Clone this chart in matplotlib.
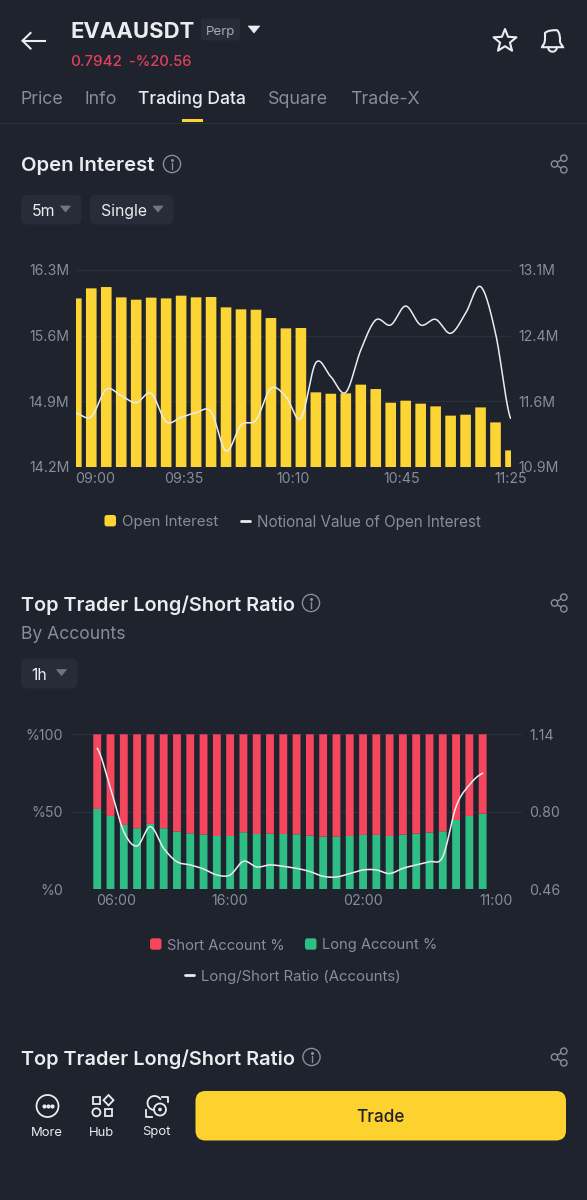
import numpy as np
import matplotlib
matplotlib.use("Agg")
import matplotlib.pyplot as plt
from matplotlib.patches import Rectangle, FancyBboxPatch, Circle, Polygon, PathPatch
from matplotlib.path import Path

# Open interest chart (5m)
oi_labels = ["09:00", "09:35", "10:10", "10:45", "11:25"]
oi_left_ticks = ["14.2M", "14.9M", "15.6M", "16.3M"]
oi_right_ticks = ["10.9M", "11.6M", "12.4M", "13.1M"]
open_interest = [15.997, 16.104, 16.118, 16.008, 15.983, 16.005, 15.997, 16.026, 16.008, 16.012,
                 15.901, 15.880, 15.876, 15.787, 15.677, 15.681, 14.994, 14.979, 14.983, 15.076,
                 15.029, 14.883, 14.905, 14.873, 14.844, 14.745, 14.755, 14.833, 14.673, 14.374]
notional = [11.497, 11.459, 11.765, 11.694, 11.616, 11.720, 11.403, 11.452, 11.504, 11.515,
            11.075, 11.366, 11.422, 11.776, 11.683, 11.441, 12.063, 11.907, 11.732, 12.205,
            12.541, 12.485, 12.697, 12.485, 12.548, 12.392, 12.615, 12.914, 12.392, 11.441]

# Top trader long/short chart (1h)
ls_labels = ["06:00", "16:00", "02:00", "11:00"]
ls_left_ticks = ["%0", "%50", "%100"]
ls_right_ticks = ["0.46", "0.80", "1.14"]
long_pct = [51.8, 47.3, 41.5, 39.4, 42.2, 39.4, 37.2, 36.1, 35.3, 34.4,
            34.4, 36.8, 35.7, 35.9, 35.7, 35.5, 34.6, 34.0, 34.0, 34.4,
            35.1, 35.1, 34.4, 35.3, 35.9, 36.6, 37.4, 44.7, 47.3, 48.8]
short_pct = [100 - v for v in long_pct]
ls_ratio = [1.079, 0.903, 0.713, 0.650, 0.735, 0.640, 0.581, 0.567, 0.549, 0.523,
            0.523, 0.583, 0.558, 0.567, 0.561, 0.552, 0.538, 0.517, 0.514, 0.529,
            0.545, 0.545, 0.529, 0.552, 0.567, 0.581, 0.603, 0.823, 0.918, 0.969]

BG = "#1E232D"
PANEL = "#272D38"
GRID = "#2A303A"
GREY = "#848E9C"
WHITE = "#EAECEF"
YELLOW = "#FCD535"
RED = "#F6465D"
GREEN = "#2EBD85"

W, H = 587, 1200
plt.rcParams["font.family"] = ["Inter", "DejaVu Sans"]

fig = plt.figure(figsize=(W / 100, H / 100), dpi=100, facecolor=BG)

# whole page overlay in pixel coords, top-left origin
ui = fig.add_axes([0, 0, 1, 1])
ui.set_xlim(0, W)
ui.set_ylim(H, 0)
ui.axis("off")


def chart_axes(l, t, r, b):
    ax = fig.add_axes([l / W, 1 - b / H, (r - l) / W, (b - t) / H])
    ax.patch.set_alpha(0)
    for s in ax.spines.values():
        s.set_visible(False)
    return ax


def smooth(y, n=16):
    # catmull-rom through the read values, only for drawing the curve
    y = np.asarray(y, dtype=float)
    p = np.concatenate([[y[0]], y, [y[-1]]])
    xs, ys = [], []
    for i in range(len(y) - 1):
        t = np.linspace(0, 1, n, endpoint=False)
        a, b, c, d = p[i], p[i + 1], p[i + 2], p[i + 3]
        ys.append(0.5 * (2 * b + (c - a) * t + (2 * a - 5 * b + 4 * c - d) * t ** 2 + (3 * b - a - 3 * c + d) * t ** 3))
        xs.append(i + t)
    return np.concatenate(xs + [[len(y) - 1]]), np.concatenate(ys + [[y[-1]]])


def txt(x, y, s, size, color=GREY, weight="normal", ha="left"):
    ui.text(x, y, s, fontsize=size, color=color, fontweight=weight, ha=ha, va="center_baseline")


def round_box(l, t, r, b, color, rad=6, zorder=1):
    ui.add_patch(FancyBboxPatch((l + rad, t + rad), r - l - 2 * rad, b - t - 2 * rad,
                                boxstyle=f"round,pad={rad},rounding_size={rad}",
                                fc=color, ec="none", zorder=zorder))


def triangle(cx, cy, w, h, color):
    ui.add_patch(Polygon([(cx - w / 2, cy - h / 2), (cx + w / 2, cy - h / 2), (cx, cy + h / 2)],
                         fc=color, ec=color, lw=0.5, joinstyle="round"))


def info_icon(cx, cy):
    ui.add_patch(Circle((cx, cy), 8.6, fc="none", ec=GREY, lw=1.0))
    ui.plot([cx, cx], [cy - 1.5, cy + 4.5], color=GREY, lw=1.0)
    ui.plot([cx], [cy - 4.2], "o", color=GREY, ms=1.2)


def share_icon(cx, cy):
    a, b, c = (cx - 4.5, cy), (cx + 4.8, cy - 5.8), (cx + 4.8, cy + 5.8)
    ui.plot([b[0], a[0], c[0]], [b[1], a[1], c[1]], color=GREY, lw=1.0)
    for p in (a, b, c):
        ui.add_patch(Circle(p, 3.2, fc=BG, ec=GREY, lw=1.0, zorder=3))


def legend_box(x, y, color):
    round_box(x, y - 5.7, x + 11.5, y + 5.7, color, rad=2.5)


def legend_dash(x, y):
    ui.plot([x, x + 9], [y, y], color=WHITE, lw=2.0, solid_capstyle="round")


def unsnap(bars):
    for b in bars:
        b.set_snap(False)


def center_labels(ax):
    for lab in ax.get_yticklabels():
        lab.set_verticalalignment("center_baseline")


# header
ui.plot([30.5, 22.5, 30.5], [33, 40.7, 48.5], color=WHITE, lw=1.5, solid_joinstyle="miter")
ui.plot([22.5, 44.5], [40.7, 40.7], color=WHITE, lw=1.5)
txt(70, 30, "EVAAUSDT", 15.9, WHITE, "bold")
round_box(201, 18.5, 240, 40.5, PANEL, rad=2.5)
txt(220.5, 30, "Perp", 9.6, "#A4ABB6", ha="center")
triangle(254, 29.5, 11.5, 7, WHITE)
txt(70, 60, "0.7942", 10.9, "#E2405A", "medium")
txt(129, 60, "-%20.56", 10.6, "#E2405A", "medium")

ang = np.pi / 2 + np.arange(10) * np.pi / 5
rad = np.where(np.arange(10) % 2 == 0, 12, 5.2)
ui.add_patch(Polygon(np.c_[505 + rad * np.cos(ang), 41 - rad * np.sin(ang)], closed=True, fc="none", ec=WHITE,
                     lw=1.5, joinstyle="round"))
bell = Path([(542, 46), (545, 44), (545, 41), (545, 37), (545, 33), (548, 30.2), (552.5, 30.2),
             (557, 30.2), (560, 33), (560, 37), (560, 41), (560, 44), (563, 46), (563, 47.2), (542, 47.2), (542, 46)],
            [Path.MOVETO, Path.CURVE4, Path.CURVE4, Path.CURVE4, Path.LINETO, Path.CURVE4, Path.CURVE4, Path.CURVE4,
             Path.CURVE4, Path.CURVE4, Path.LINETO, Path.CURVE4, Path.CURVE4, Path.LINETO, Path.LINETO, Path.LINETO])
ui.add_patch(PathPatch(bell, fc="none", ec=WHITE, lw=1.5))
clapper = np.linspace(0, np.pi, 20)
ui.plot(552.5 + 4.3 * np.cos(clapper), 47.5 + 4.2 * np.sin(clapper), color=WHITE, lw=1.5)

txt(21, 97, "Price", 12.8)
txt(85, 97, "Info", 12.8)
txt(138, 97, "Trading Data", 12.6, WHITE, "medium")
txt(268, 97, "Square", 12.9)
txt(350, 97, "Trade-X", 12.8)
ui.plot([0, W], [122.5, 122.5], color=GRID, lw=0.9)
ui.add_patch(Rectangle((182, 118.5), 21, 3.7, fc=YELLOW, ec="none", zorder=3))

# open interest section
txt(21, 164, "Open Interest", 14.6, WHITE, "semibold")
info_icon(172, 164)
share_icon(559, 164)
round_box(21, 195, 81.5, 224.5, PANEL)
txt(31.5, 210, "5m", 11.4, WHITE)
triangle(65.5, 209, 10, 6, "#6F7683")
round_box(90, 195, 173.5, 224.5, PANEL)
txt(101, 210, "Single", 11.4, WHITE)
triangle(158, 209, 10, 6, "#6F7683")

x1 = np.arange(len(open_interest))
ax1 = chart_axes(76.3, 270, 510.5, 466.7)
unsnap(ax1.bar(x1, open_interest, width=0.71, color=YELLOW, zorder=2))
ax1.set_xlim(0, len(open_interest) - 1)
ax1.set_ylim(14.2, 16.3)
ax1.set_yticks([14.2, 14.9, 15.6, 16.3], oi_left_ticks)
ax1.set_xticks([1.25, 7.2, 14.5, 21.76, 29], oi_labels)
ax1.grid(True, axis="y", color=GRID, lw=0.9, zorder=0)
ax1.tick_params(length=0, labelsize=10.2, labelcolor=GREY)
ax1.tick_params(axis="y", pad=5)
ax1.tick_params(axis="x", pad=3.5)
center_labels(ax1)
ax1b = ax1.twinx()
ax1b.patch.set_alpha(0)
for s in ax1b.spines.values():
    s.set_visible(False)
sx, sy = smooth(notional)
ax1b.plot(sx, sy, color=WHITE, lw=1.1, zorder=5, solid_capstyle="round")
ax1b.set_ylim(10.9, 13.1)
ax1b.set_yticks([10.9, 11.633, 12.367, 13.1], oi_right_ticks)
ax1b.tick_params(length=0, labelsize=10.2, labelcolor=GREY, pad=5.5)
center_labels(ax1b)

legend_box(104.5, 520.7, YELLOW)
txt(121.5, 520.7, "Open Interest", 10.9)
legend_dash(241, 520.7)
txt(256.7, 520.7, "Notional Value of Open Interest", 10.95)

# long/short section
txt(21, 603, "Top Trader Long/Short Ratio", 14.35, WHITE, "semibold")
info_icon(311, 603)
share_icon(559, 603)
txt(21, 632.5, "By Accounts", 12.6)
round_box(21, 658.5, 77.5, 688.5, PANEL)
txt(31.5, 673.5, "1h", 11.4, WHITE)
triangle(61.5, 672.5, 10, 6, "#6F7683")

x2 = np.arange(len(long_pct))
ax2 = chart_axes(71.7, 734.3, 522, 889.3)
unsnap(ax2.bar(x2, long_pct, width=0.59, color=GREEN, zorder=2))
unsnap(ax2.bar(x2, short_pct, width=0.59, bottom=long_pct, color=RED, zorder=2))
ax2.set_xlim(-1.92, 31.96)
ax2.set_ylim(0, 100)
ax2.set_yticks([0, 50, 100], ls_left_ticks)
ax2.set_xticks([1.41, 10, 20, 30], ls_labels)
ax2.grid(True, axis="y", color=GRID, lw=0.9, zorder=0)
ax2.tick_params(length=0, labelsize=10.2, labelcolor=GREY)
ax2.tick_params(axis="y", pad=6)
ax2.tick_params(axis="x", pad=3.5)
center_labels(ax2)
ax2b = ax2.twinx()
ax2b.patch.set_alpha(0)
for s in ax2b.spines.values():
    s.set_visible(False)
sx, sy = smooth(ls_ratio)
ax2b.plot(sx, sy, color=WHITE, lw=1.1, zorder=5, solid_capstyle="round")
ax2b.set_ylim(0.46, 1.14)
ax2b.set_yticks([0.46, 0.80, 1.14], ls_right_ticks)
ax2b.tick_params(length=0, labelsize=10.2, labelcolor=GREY, pad=5)
center_labels(ax2b)

legend_box(150, 944, RED)
txt(166.7, 944, "Short Account %", 10.6)
legend_box(305, 944, GREEN)
txt(322, 944, "Long Account %", 10.6)
legend_dash(185, 975)
txt(201, 975, "Long/Short Ratio (Accounts)", 10.75)

# next section, cut off by the bottom bar
txt(21, 1057, "Top Trader Long/Short Ratio", 14.35, WHITE, "semibold")
info_icon(311.5, 1057)
share_icon(559, 1057)

# bottom bar
ui.add_patch(Circle((47.5, 1106), 11, fc="none", ec=WHITE, lw=1.3))
for dx in (-4, 0, 4):
    ui.plot([47.5 + dx], [1106], "o", color=WHITE, ms=2)
ui.add_patch(Rectangle((92.5, 1096.5), 7.8, 7.8, fc="none", ec=WHITE, lw=1.3))
ui.add_patch(Polygon([(108.5, 1095), (113.5, 1100.2), (108.5, 1105.4), (103.5, 1100.2)], fc="none", ec=WHITE, lw=1.3))
ui.add_patch(Circle((96.4, 1112.3), 4, fc="none", ec=WHITE, lw=1.3))
ui.add_patch(Rectangle((104.5, 1108.5), 7.8, 7.8, fc="none", ec=WHITE, lw=1.3))
arc = np.linspace(0.6, 4.6, 40)
ui.plot(154.5 + 7 * np.cos(arc), 1103 - 7 * np.sin(arc), color=WHITE, lw=1.3)
ui.add_patch(Circle((160, 1109.5), 6, fc=BG, ec=WHITE, lw=1.3, zorder=3))
ui.add_patch(Circle((160, 1109.5), 1.8, fc=WHITE, ec="none", zorder=4))
ui.plot([162, 168, 168], [1096.5, 1096.5, 1102], color=WHITE, lw=1.3)
ui.plot([146, 146, 152], [1109.5, 1117, 1117], color=WHITE, lw=1.3)
txt(47, 1131, "More", 9.4, WHITE, ha="center")
txt(102, 1131, "Hub", 9.4, WHITE, ha="center")
txt(156.5, 1131, "Spot", 9.4, WHITE, ha="center")
round_box(195.5, 1091, 566, 1140.5, "#FDD22F", rad=10)
txt(380, 1116, "Trade", 12.4, "#1E2329", "medium", ha="center")

fig.savefig("out.png", dpi=100, facecolor=BG)
